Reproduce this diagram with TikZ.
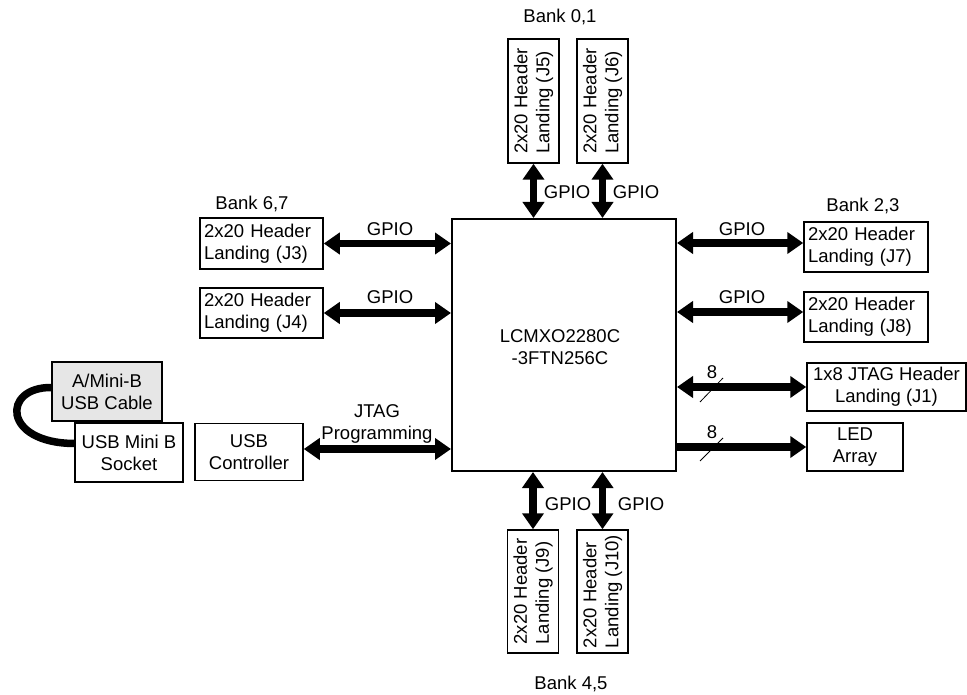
\documentclass[tikz,border=0pt]{standalone}
\usepackage{fontspec}
\setmainfont{Liberation Sans}
\usetikzlibrary{arrows.meta}
\definecolor{cablegray}{RGB}{230,230,230}
\begin{document}
\begin{tikzpicture}[x=1pt,y=-1pt,
  every node/.style={font=\fontsize{18.5}{22}\selectfont},
  blk/.style={draw, line width=1.5pt, inner sep=0pt, align=center},
  hdr/.style={blk, inner xsep=4pt, align=left, text width=115.5pt, minimum height=51pt},
  vbox/.style={blk, minimum width=51pt, minimum height=124pt},
  vtxt/.style={rotate=90, align=left, inner sep=0pt},
  lbl/.style={inner sep=0pt},
  bus/.style={line width=7.5pt, {Triangle[width=21pt,length=16pt]}-{Triangle[width=21pt,length=16pt]}},
  busone/.style={line width=7.5pt, -{Triangle[width=21pt,length=16pt]}},
  tick/.style={line width=0.8pt}]
\useasboundingbox (0,0) rectangle (967,695);

% main device
\node[draw, line width=2pt, minimum width=224pt, minimum height=252pt, inner sep=0pt] (main) at (564,345) {};
\node[lbl, align=center] (maintxt) at (560,347) {LCMXO2280C\\-3FTN256C};

% top headers
\node[vbox] (j5) at (533.5,101) {};
\node[vtxt] (j5t) at (j5) {2x20 Header\\Landing (J5)};
\node[vbox] (j6) at (602.5,101) {};
\node[vtxt] (j6t) at (j6) {2x20 Header\\Landing (J6)};
\node[lbl] (bank01) at (560,17) {Bank 0,1};
\draw[bus] (j5.south) -- (j5.south |- main.north);
\draw[bus] (j6.south) -- (j6.south |- main.north);
\node[lbl] (g5) at (567,192) {GPIO};
\node[lbl] (g6) at (636,192) {GPIO};

% bottom headers
\node[vbox, minimum height=123pt] (j9) at (533,591.5) {};
\node[vtxt] (j9t) at (j9) {2x20 Header\\Landing (J9)};
\node[vbox, minimum height=123pt] (j10) at (602.5,591.5) {};
\node[vtxt] (j10t) at (j10) {2x20 Header\\Landing (J10)};
\node[lbl] (bank45) at (571,684) {Bank 4,5};
\draw[bus] (j9.north) -- (j9.north |- main.south);
\draw[bus] (j10.north) -- (j10.north |- main.south);
\node[lbl] (g9) at (568,504) {GPIO};
\node[lbl] (g10) at (641,504) {GPIO};

% left headers
\node[hdr, text width=115pt] (j3) at (261.5,243.5) {2x20 Header\\Landing (J3)};
\node[hdr, text width=115pt, minimum height=50pt] (j4) at (261.5,313) {2x20 Header\\Landing (J4)};
\node[lbl] (bank67) at (252,204) {Bank 6,7};
\draw[bus] (j3.east) -- (j3.east -| main.west);
\draw[bus] (j4.east) -- (j4.east -| main.west);
\node[lbl] (g3) at (390,229) {GPIO};
\node[lbl] (g4) at (390,297) {GPIO};

% right headers
\node[hdr, text width=116pt, minimum height=50pt] (j7) at (866,247) {2x20 Header\\Landing (J7)};
\node[hdr, text width=116pt, minimum height=50pt] (j8) at (866,317) {2x20 Header\\Landing (J8)};
\node[lbl] (bank23) at (863,206) {Bank 2,3};
\draw[bus] (main.east |- 0,243) coordinate (r7) (r7) -- (r7 -| j7.west);
\draw[bus] (main.east |- 0,312) coordinate (r8) (r8) -- (r8 -| j8.west);
\node[lbl] (g7) at (742,229) {GPIO};
\node[lbl] (g8) at (742,297) {GPIO};

% JTAG header and LEDs
\node[blk, minimum width=159pt, minimum height=48pt] (j1) at (886.5,387) {1x8 JTAG Header\\Landing (J1)};
\node[blk, minimum width=96pt, minimum height=48pt] (led) at (855,447) {LED\\Array};
\draw[bus] (main.east |- j1.west) -- (j1.west);
\draw[busone] (main.east |- led.west) -- (led.west);
\node[lbl] (n8a) at (712,372) {8};
\node[lbl] (n8b) at (712,432) {8};
\draw[tick] (700,402) -- (723,378);
\draw[tick] (700,461) -- (723,438);

% USB path
\node[blk, fill=cablegray, minimum width=110pt, minimum height=59pt] (cable) at (107,391.5) {A/Mini-B\\USB Cable};
\node[blk, minimum width=108pt, minimum height=59pt] (sock) at (129,452.5) {USB Mini B\\Socket};
\node[blk, minimum width=108pt, minimum height=57pt] (usbc) at (249,452) {USB\\Controller};
\draw[line width=7.5pt] ([yshift=4pt]cable.west) .. controls (2,387) and (2,443) .. ([yshift=9pt]sock.west);
\draw[bus] ([yshift=3pt]usbc.east) coordinate (uj) (uj) -- (uj -| main.west);
\node[lbl, align=center] (jtaglbl) at (377,424) {JTAG\\Programming};
\end{tikzpicture}
\end{document}
